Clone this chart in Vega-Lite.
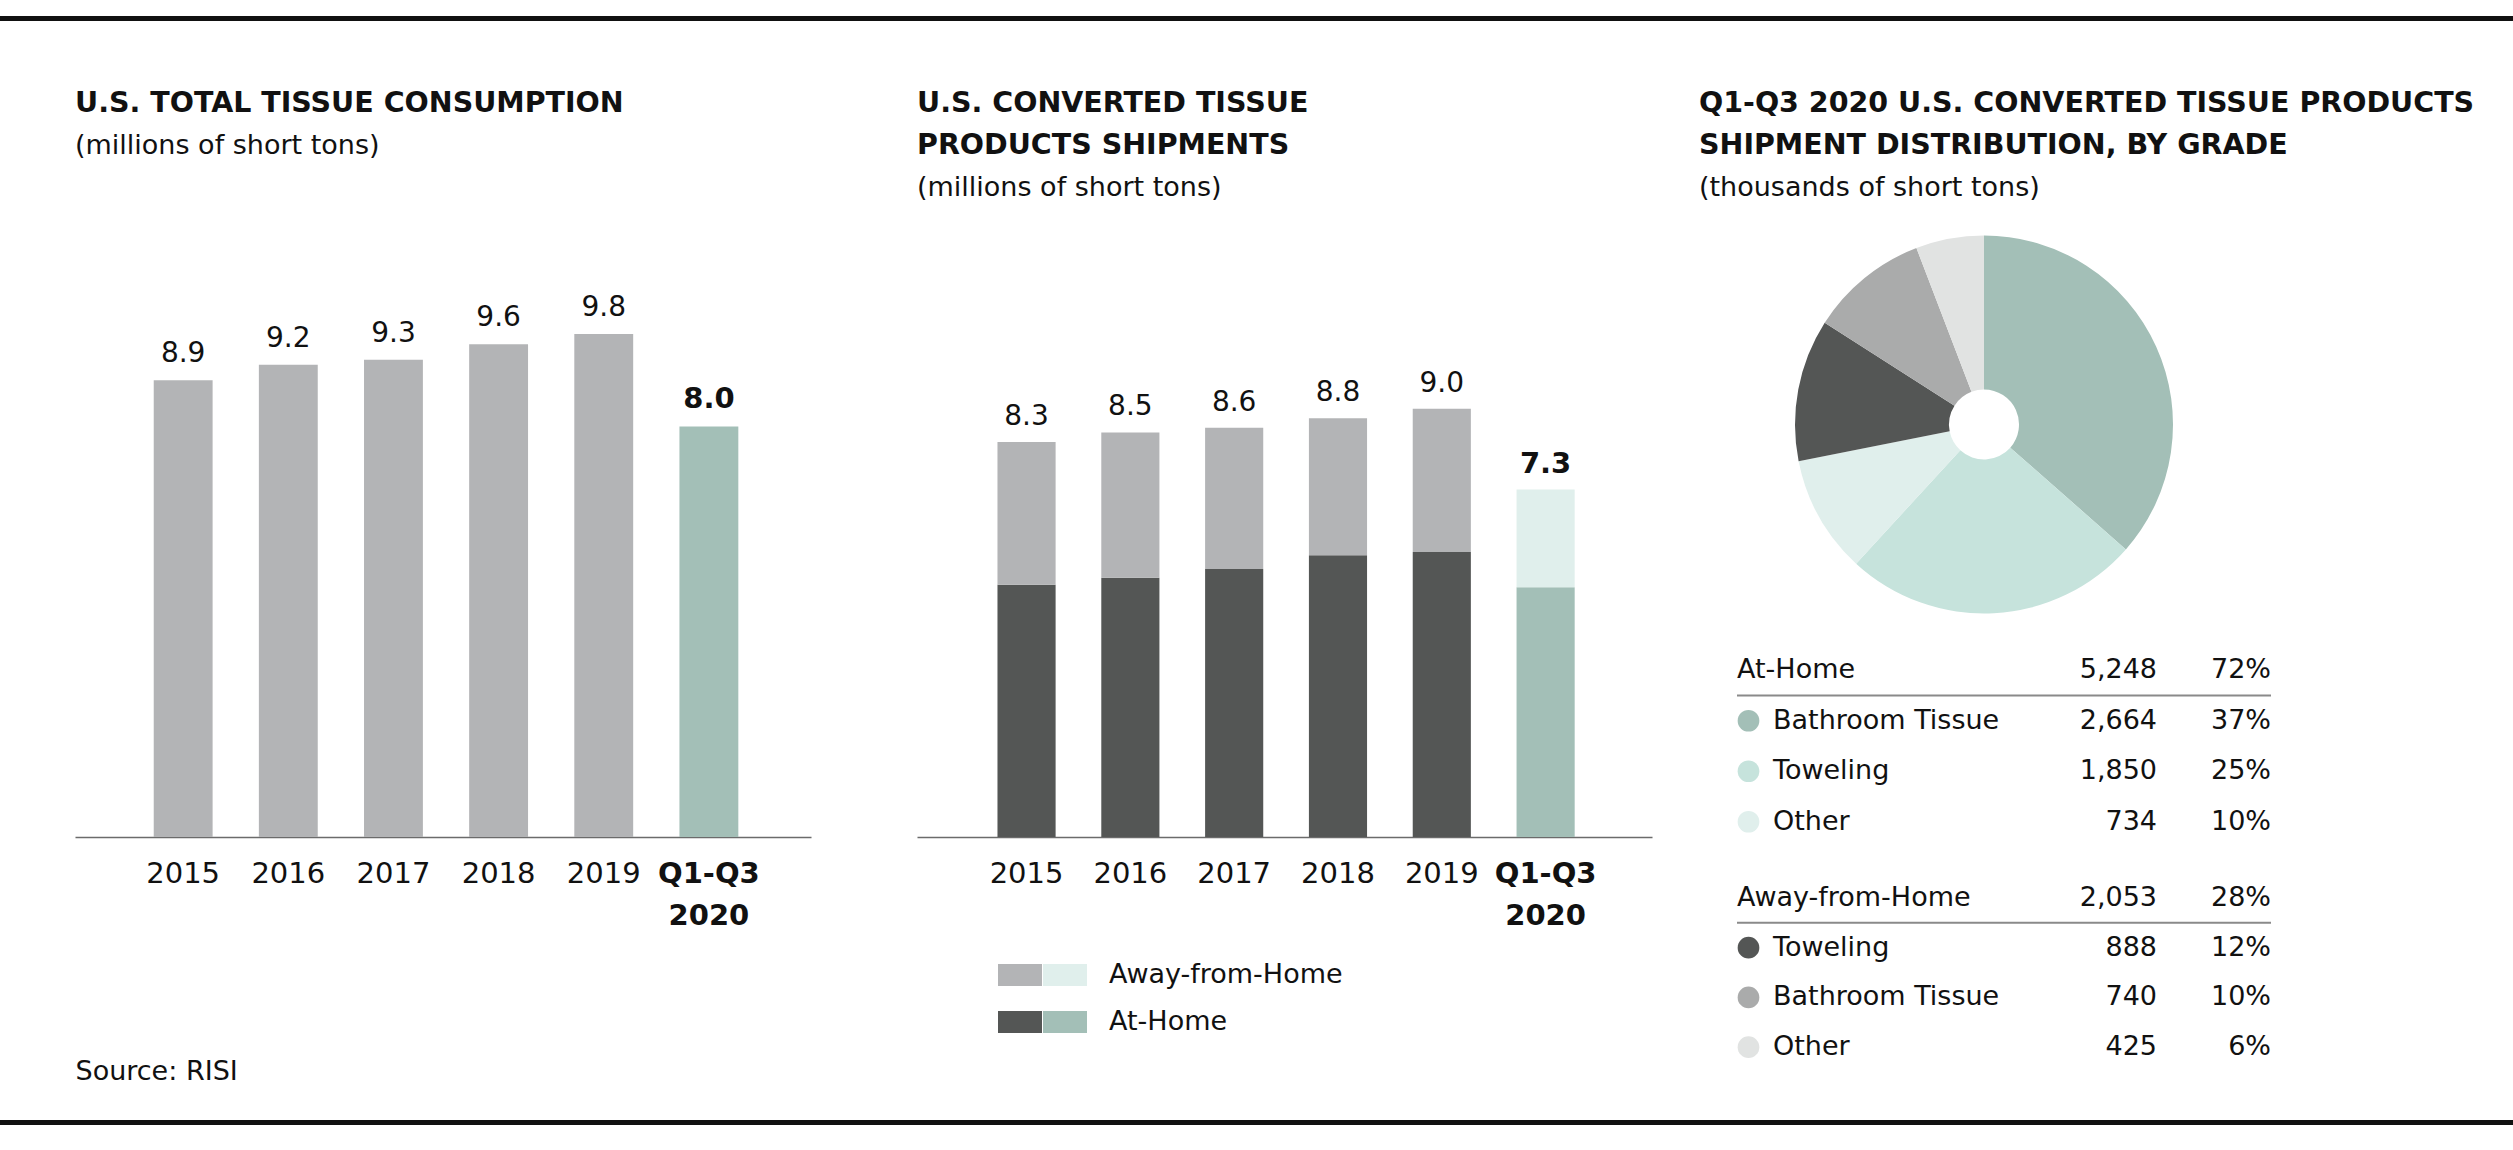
{
  "$schema": "https://vega.github.io/schema/vega-lite/v6.json",
  "padding": {"left": 0, "right": 0, "top": 16, "bottom": 0},
  "background": "white",
  "config": {
    "font": "DejaVu Sans",
    "view": {"stroke": null},
    "title": {"font": "DejaVu Sans", "fontSize": 28.5, "fontWeight": "bold", "color": "#111111", "subtitleFont": "DejaVu Sans", "subtitleFontSize": 27, "subtitleColor": "#111111", "subtitlePadding": 16, "lineHeight": 42, "subtitleLineHeight": 34, "anchor": "start", "frame": "group"},
    "axis": {"labelFont": "DejaVu Sans", "labelFontSize": 29, "labelColor": "#111111", "domainColor": "#6b6b6b", "domainWidth": 1.5, "ticks": false, "grid": false, "labelAngle": 0, "labelPadding": 22, "labelLineHeight": 42},
    "text": {"font": "DejaVu Sans", "fontSize": 28, "color": "#111111"}
  },
  "datasets": {
    "consumption": [
      {"period": "2015", "tons": 8.9},
      {"period": "2016", "tons": 9.2},
      {"period": "2017", "tons": 9.3},
      {"period": "2018", "tons": 9.6},
      {"period": "2019", "tons": 9.8},
      {"period": "Q1-Q3 2020", "tons": 8.0}
    ],
    "shipments": [
      {"period": "2015", "segment": "At-Home", "tons": 5.3},
      {"period": "2015", "segment": "Away-from-Home", "tons": 3.0},
      {"period": "2016", "segment": "At-Home", "tons": 5.45},
      {"period": "2016", "segment": "Away-from-Home", "tons": 3.05},
      {"period": "2017", "segment": "At-Home", "tons": 5.63},
      {"period": "2017", "segment": "Away-from-Home", "tons": 2.97},
      {"period": "2018", "segment": "At-Home", "tons": 5.92},
      {"period": "2018", "segment": "Away-from-Home", "tons": 2.88},
      {"period": "2019", "segment": "At-Home", "tons": 5.99},
      {"period": "2019", "segment": "Away-from-Home", "tons": 3.01},
      {"period": "Q1-Q3 2020", "segment": "At-Home", "tons": 5.248},
      {"period": "Q1-Q3 2020", "segment": "Away-from-Home", "tons": 2.053}
    ],
    "grades": [
      {"group": "At-Home", "rank": 0, "label": "At-Home", "tons": 5248, "pct": 72},
      {"group": "At-Home", "rank": 1, "label": "Bathroom Tissue", "tons": 2664, "pct": 37},
      {"group": "At-Home", "rank": 2, "label": "Toweling", "tons": 1850, "pct": 25},
      {"group": "At-Home", "rank": 3, "label": "Other", "tons": 734, "pct": 10},
      {"group": "Away-from-Home", "rank": 0, "label": "Away-from-Home", "tons": 2053, "pct": 28},
      {"group": "Away-from-Home", "rank": 1, "label": "Toweling", "tons": 888, "pct": 12},
      {"group": "Away-from-Home", "rank": 2, "label": "Bathroom Tissue", "tons": 740, "pct": 10},
      {"group": "Away-from-Home", "rank": 3, "label": "Other", "tons": 425, "pct": 6}
    ]
  },
  "spacing": 36,
  "vconcat": [
    {
      "width": 2438, "height": 36,
      "data": {"values": [{}]},
      "mark": {"type": "rect", "color": "#111111"},
      "encoding": {"x": {"value": -75}, "x2": {"value": 2438}, "y": {"value": 0}, "y2": {"value": 5}}
    },
    {
      "spacing": 47,
      "hconcat": [
        {
          "width": 795, "height": 602,
          "title": {"text": "U.S. TOTAL TISSUE CONSUMPTION", "subtitle": "(millions of short tons)", "offset": 76},
          "data": {"name": "consumption"},
          "encoding": {
            "x": {"field": "period", "type": "nominal", "sort": null,
              "scale": {"domain": ["2015", "2016", "2017", "2018", "2019", "Q1-Q3 2020"], "range": [0, 736], "paddingInner": 0.44, "paddingOuter": 0.72, "align": 0.52},
              "axis": {"title": "Source: RISI", "titleAnchor": "start", "titleAlign": "left", "titleFont": "DejaVu Sans", "titleFontSize": 27, "titleFontWeight": "normal", "titleColor": "#111111", "titlePadding": 128,
                "labelExpr": "datum.value === 'Q1-Q3 2020' ? ['Q1-Q3', '2020'] : datum.label",
                "labelFontWeight": {"condition": {"test": "datum.value === 'Q1-Q3 2020'", "value": "bold"}, "value": "normal"}}},
            "y": {"field": "tons", "type": "quantitative", "scale": {"domain": [0, 11.73]}, "axis": null}
          },
          "layer": [
            {"mark": {"type": "bar"}, "encoding": {"color": {"condition": {"test": "datum.period === 'Q1-Q3 2020'", "value": "#a3bfb7"}, "value": "#b3b4b6"}}},
            {"transform": [{"filter": "datum.period !== 'Q1-Q3 2020'"}],
             "mark": {"type": "text", "baseline": "alphabetic", "dy": -18},
             "encoding": {"text": {"field": "tons", "type": "quantitative", "format": ".1f"}}},
            {"transform": [{"filter": "datum.period === 'Q1-Q3 2020'"}],
             "mark": {"type": "text", "baseline": "alphabetic", "dy": -18, "fontWeight": "bold", "fontSize": 29},
             "encoding": {"text": {"field": "tons", "type": "quantitative", "format": ".1f"}}}
          ]
        },
        {
          "width": 735, "height": 602,
          "title": {"text": ["U.S. CONVERTED TISSUE", "PRODUCTS SHIPMENTS"], "subtitle": "(millions of short tons)", "offset": 34},
          "data": {"name": "shipments"},
          "encoding": {
            "x": {"field": "period", "type": "nominal", "sort": null,
              "scale": {"domain": ["2015", "2016", "2017", "2018", "2019", "Q1-Q3 2020"], "range": [0, 735], "paddingInner": 0.44, "paddingOuter": 0.76, "align": 0.51},
              "axis": {"title": null,
                "labelExpr": "datum.value === 'Q1-Q3 2020' ? ['Q1-Q3', '2020'] : datum.label",
                "labelFontWeight": {"condition": {"test": "datum.value === 'Q1-Q3 2020'", "value": "bold"}, "value": "normal"}}}
          },
          "layer": [
            {
              "transform": [{"filter": "datum.period !== 'Q1-Q3 2020'"}],
              "mark": {"type": "bar"},
              "encoding": {
                "y": {"field": "tons", "type": "quantitative", "stack": "zero", "scale": {"domain": [0, 12.65]}, "axis": null},
                "fill": {"field": "segment", "type": "nominal",
                  "scale": {"domain": ["Away-from-Home", "At-Home"], "range": ["#b3b4b6", "#545655"]},
                  "legend": {"orient": "none", "legendX": 81, "legendY": 718, "title": null, "symbolType": "M-1,-0.5L1,-0.5L1,0.5L-1,0.5Z", "symbolSize": 1936, "symbolStrokeWidth": 0, "labelExpr": "''", "padding": 0, "rowPadding": 12, "labelFontSize": 27}},
                "order": {"field": "segment", "sort": "ascending"}
              }
            },
            {
              "transform": [{"filter": "datum.period === 'Q1-Q3 2020'"}],
              "mark": {"type": "bar"},
              "encoding": {
                "y": {"field": "tons", "type": "quantitative", "stack": "zero", "scale": {"domain": [0, 12.65]}, "axis": null},
                "fill": {"field": "segment", "type": "nominal",
                  "scale": {"domain": ["Away-from-Home", "At-Home"], "range": ["#e0efec", "#a3bfb7"]},
                  "legend": {"orient": "none", "legendX": 126, "legendY": 718, "title": null, "symbolType": "M-1,-0.5L1,-0.5L1,0.5L-1,0.5Z", "symbolSize": 1936, "symbolStrokeWidth": 0, "labelOffset": 22, "labelLimit": 500, "labelFont": "DejaVu Sans", "labelFontSize": 27, "labelColor": "#111111", "padding": 0, "rowPadding": 12,
                    "encode": {"symbols": {"enter": {"fill": {"signal": "datum.label === 'Away-from-Home' ? '#c6e3dc' : '#a3bfb7'"}}, "update": {"fill": {"signal": "datum.label === 'Away-from-Home' ? '#c6e3dc' : '#a3bfb7'"}}}}}},
                "order": {"field": "segment", "sort": "ascending"}
              }
            },
            {
              "transform": [{"aggregate": [{"op": "sum", "field": "tons", "as": "total"}], "groupby": ["period"]}, {"filter": "datum.period !== 'Q1-Q3 2020'"}],
              "mark": {"type": "text", "baseline": "alphabetic", "dy": -17},
              "encoding": {
                "y": {"field": "total", "type": "quantitative", "scale": {"domain": [0, 12.65]}, "axis": null},
                "text": {"field": "total", "type": "quantitative", "format": ".1f"}
              }
            },
            {
              "transform": [{"aggregate": [{"op": "sum", "field": "tons", "as": "total"}], "groupby": ["period"]}, {"filter": "datum.period === 'Q1-Q3 2020'"}],
              "mark": {"type": "text", "baseline": "alphabetic", "dy": -17, "fontWeight": "bold", "fontSize": 29},
              "encoding": {
                "y": {"field": "total", "type": "quantitative", "scale": {"domain": [0, 12.65]}, "axis": null},
                "text": {"field": "total", "type": "quantitative", "format": ".1f"}
              }
            }
          ],
          "resolve": {"scale": {"fill": "independent"}, "legend": {"fill": "independent"}}
        },
        {
          "spacing": 31,
          "vconcat": [
            {
              "width": 570, "height": 379,
              "title": {"text": ["Q1-Q3 2020 U.S. CONVERTED TISSUE PRODUCTS", "SHIPMENT DISTRIBUTION, BY GRADE"], "subtitle": "(thousands of short tons)", "offset": 34},
              "data": {"name": "grades"},
              "transform": [{"filter": "datum.rank > 0"}, {"calculate": "datum.group + ' | ' + datum.label", "as": "slice"}, {"calculate": "(datum.group === 'At-Home' ? 0 : 10) + datum.rank", "as": "sequence"}],
              "mark": {"type": "arc", "outerRadius": 189, "innerRadius": 35},
              "encoding": {
                "theta": {"field": "tons", "type": "quantitative", "stack": true},
                "color": {"field": "slice", "type": "nominal",
                  "scale": {"domain": ["At-Home | Bathroom Tissue", "At-Home | Toweling", "At-Home | Other", "Away-from-Home | Toweling", "Away-from-Home | Bathroom Tissue", "Away-from-Home | Other"],
                            "range": ["#a3bfb7", "#c6e3dc", "#e0efec", "#545655", "#aaabab", "#e1e3e2"]},
                  "legend": null},
                "order": {"field": "sequence", "type": "quantitative", "sort": "ascending"}
              }
            },
            {
              "width": 572, "height": 197,
              "data": {"name": "grades"},
              "transform": [{"filter": "datum.group === 'At-Home'"}, {"calculate": "datum.group + ' | ' + datum.label", "as": "slice"}, {"calculate": "datum.pct + '%'", "as": "share"}],
              "encoding": {"y": {"field": "rank", "type": "ordinal", "axis": null, "scale": {"range": [0, 202], "paddingInner": 0, "paddingOuter": 0}}},
              "layer": [
                {"transform": [{"filter": "datum.rank === 0"}], "mark": {"type": "rule", "x": 38, "x2": 572, "color": "#8a8a8a", "strokeWidth": 2}, "encoding": {"y": {"field": "rank", "type": "ordinal", "bandPosition": 1}}},
                {"transform": [{"filter": "datum.rank === 0"}], "mark": {"type": "text", "align": "left", "x": 38, "fontSize": 27}, "encoding": {"text": {"field": "label"}}},
                {"transform": [{"filter": "datum.rank > 0"}], "mark": {"type": "point", "filled": true, "shape": "circle", "size": 470, "opacity": 1, "x": 49.5},
                 "encoding": {"color": {"field": "slice", "type": "nominal",
                  "scale": {"domain": ["At-Home | Bathroom Tissue", "At-Home | Toweling", "At-Home | Other", "Away-from-Home | Toweling", "Away-from-Home | Bathroom Tissue", "Away-from-Home | Other"],
                            "range": ["#a3bfb7", "#c6e3dc", "#e0efec", "#545655", "#aaabab", "#e1e3e2"]}, "legend": null}}},
                {"transform": [{"filter": "datum.rank > 0"}], "mark": {"type": "text", "align": "left", "x": 74, "fontSize": 27}, "encoding": {"text": {"field": "label"}}},
                {"mark": {"type": "text", "align": "right", "x": 458, "fontSize": 27}, "encoding": {"text": {"field": "tons", "type": "quantitative", "format": ","}}},
                {"mark": {"type": "text", "align": "right", "x": 572, "fontSize": 27}, "encoding": {"text": {"field": "share"}}}
              ]
            },
            {
              "width": 572, "height": 199,
              "data": {"name": "grades"},
              "transform": [{"filter": "datum.group === 'Away-from-Home'"}, {"calculate": "datum.group + ' | ' + datum.label", "as": "slice"}, {"calculate": "datum.pct + '%'", "as": "share"}],
              "encoding": {"y": {"field": "rank", "type": "ordinal", "axis": null, "scale": {"paddingInner": 0, "paddingOuter": 0}}},
              "layer": [
                {"transform": [{"filter": "datum.rank === 0"}], "mark": {"type": "rule", "x": 38, "x2": 572, "color": "#8a8a8a", "strokeWidth": 2}, "encoding": {"y": {"field": "rank", "type": "ordinal", "bandPosition": 1}}},
                {"transform": [{"filter": "datum.rank === 0"}], "mark": {"type": "text", "align": "left", "x": 38, "fontSize": 27}, "encoding": {"text": {"field": "label"}}},
                {"transform": [{"filter": "datum.rank > 0"}], "mark": {"type": "point", "filled": true, "shape": "circle", "size": 470, "opacity": 1, "x": 49.5},
                 "encoding": {"color": {"field": "slice", "type": "nominal",
                  "scale": {"domain": ["At-Home | Bathroom Tissue", "At-Home | Toweling", "At-Home | Other", "Away-from-Home | Toweling", "Away-from-Home | Bathroom Tissue", "Away-from-Home | Other"],
                            "range": ["#a3bfb7", "#c6e3dc", "#e0efec", "#545655", "#aaabab", "#e1e3e2"]}, "legend": null}}},
                {"transform": [{"filter": "datum.rank > 0"}], "mark": {"type": "text", "align": "left", "x": 74, "fontSize": 27}, "encoding": {"text": {"field": "label"}}},
                {"mark": {"type": "text", "align": "right", "x": 458, "fontSize": 27}, "encoding": {"text": {"field": "tons", "type": "quantitative", "format": ","}}},
                {"mark": {"type": "text", "align": "right", "x": 572, "fontSize": 27}, "encoding": {"text": {"field": "share"}}}
              ]
            }
          ]
        }
      ]
    },
    {
      "width": 2438, "height": 5,
      "data": {"values": [{}]},
      "mark": {"type": "rect", "color": "#111111"},
      "encoding": {"x": {"value": -75}, "x2": {"value": 2438}, "y": {"value": 0}, "y2": {"value": "height"}}
    }
  ]
}
